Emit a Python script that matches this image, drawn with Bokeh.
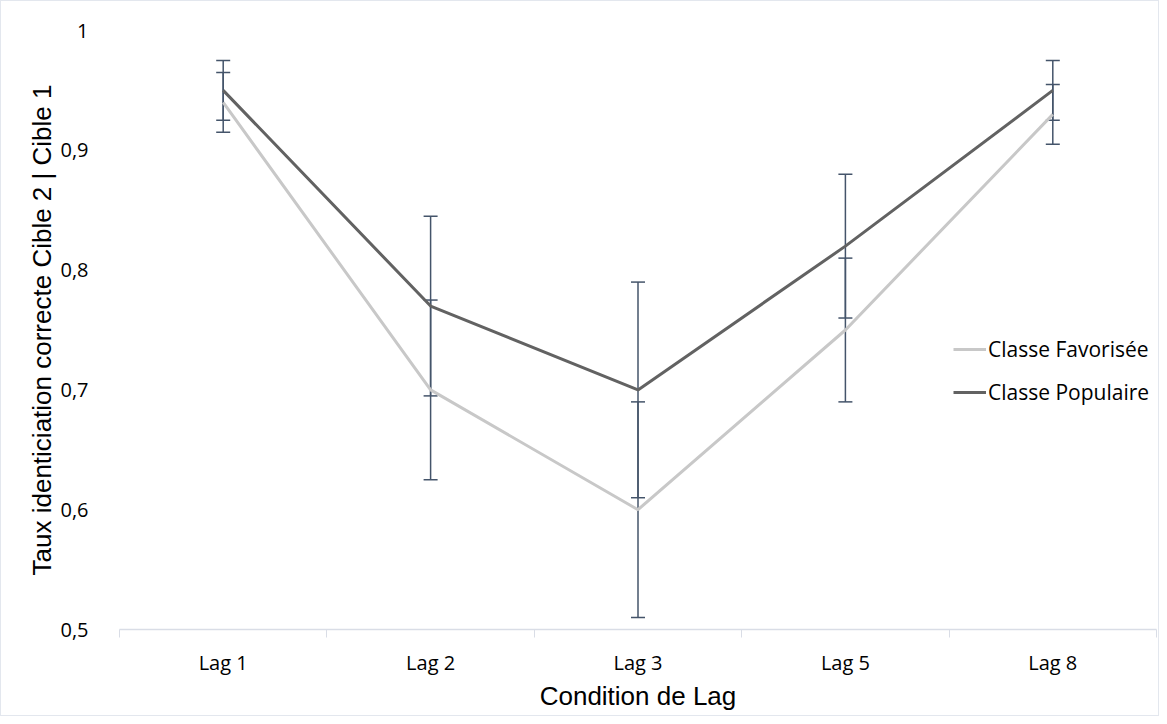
from bokeh.plotting import figure
from bokeh.models import ColumnDataSource, Whisker, TeeHead, FixedTicker, Legend, LegendItem, Range1d
from bokeh.embed import file_html
from bokeh.resources import INLINE

categories = ["Lag 1", "Lag 2", "Lag 3", "Lag 5", "Lag 8"]
favorisee = [0.94, 0.70, 0.60, 0.75, 0.93]
favorisee_err = [0.025, 0.075, 0.09, 0.06, 0.025]
populaire = [0.95, 0.77, 0.70, 0.82, 0.95]
populaire_err = [0.025, 0.075, 0.09, 0.06, 0.025]
y_ticks = [0.5, 0.6, 0.7, 0.8, 0.9, 1.0]
y_labels = ["0,5", "0,6", "0,7", "0,8", "0,9", "1"]

xpos = [i + 0.5 for i in range(len(categories))]

p = figure(width=1159, height=716, output_backend="svg", toolbar_location=None,
           x_range=Range1d(0, len(categories)), y_range=Range1d(0.5, 1.0),
           min_border_left=118, min_border_right=4, min_border_top=29, min_border_bottom=88)
p.outline_line_color = None
p.xgrid.visible = False
p.ygrid.visible = False
p.styles = {"border": "1px solid #e3e7ee"}

src_f = ColumnDataSource(dict(x=xpos, y=favorisee,
                              lo=[v - e for v, e in zip(favorisee, favorisee_err)],
                              hi=[v + e for v, e in zip(favorisee, favorisee_err)]))
src_p = ColumnDataSource(dict(x=xpos, y=populaire,
                              lo=[v - e for v, e in zip(populaire, populaire_err)],
                              hi=[v + e for v, e in zip(populaire, populaire_err)]))

rf = p.line("x", "y", source=src_f, line_color="#c8c8c8", line_width=3)
rp = p.line("x", "y", source=src_p, line_color="#626262", line_width=3)

for src in (src_f, src_p):
    w = Whisker(source=src, base="x", upper="hi", lower="lo", dimension="height",
                line_color="#44546a", line_width=1.5,
                upper_head=TeeHead(size=14, line_color="#44546a", line_width=1.5),
                lower_head=TeeHead(size=14, line_color="#44546a", line_width=1.5))
    p.add_layout(w)

# x axis
p.xaxis.ticker = FixedTicker(ticks=xpos, minor_ticks=list(range(len(categories) + 1)))
p.xaxis.major_label_overrides = {x: c for x, c in zip(xpos, categories)}
p.xaxis.major_tick_line_color = None
p.xaxis.minor_tick_line_color = "#d9dde6"
p.xaxis.minor_tick_in = 0
p.xaxis.minor_tick_out = 8
p.xaxis.axis_line_color = "#d9dde6"
p.xaxis.axis_line_width = 1.5
p.xaxis.major_label_text_font = "Open Sans"
p.xaxis.major_label_text_font_size = "20px"
p.xaxis.major_label_text_color = "#000000"
p.xaxis.major_label_standoff = 11
p.xaxis.axis_label = "Condition de Lag"
p.xaxis.axis_label_text_font = "Liberation Sans"
p.xaxis.axis_label_text_font_style = "normal"
p.xaxis.axis_label_text_font_size = "26px"
p.xaxis.axis_label_text_color = "#000000"
p.xaxis.axis_label_standoff = 2

# y axis
p.yaxis.ticker = FixedTicker(ticks=y_ticks)
p.yaxis.major_label_overrides = {t: l for t, l in zip(y_ticks, y_labels)}
p.yaxis.axis_line_color = None
p.yaxis.major_tick_line_color = None
p.yaxis.minor_tick_line_color = None
p.yaxis.major_label_text_font = "Open Sans"
p.yaxis.major_label_text_font_size = "20px"
p.yaxis.major_label_text_color = "#000000"
p.yaxis.major_label_standoff = 25
p.yaxis.axis_label = "Taux identiciation correcte Cible 2 | Cible 1"
p.yaxis.axis_label_text_font = "Liberation Sans"
p.yaxis.axis_label_text_font_style = "normal"
p.yaxis.axis_label_text_font_size = "26px"
p.yaxis.axis_label_text_color = "#000000"
p.yaxis.axis_label_standoff = 0

legend = Legend(items=[LegendItem(label="Classe Favorisée", renderers=[rf]),
                       LegendItem(label="Classe Populaire", renderers=[rp])],
                location=(834, 223), orientation="vertical")
legend.background_fill_alpha = 0
legend.border_line_color = None
legend.padding = 0
legend.margin = 0
legend.glyph_width = 33
legend.glyph_height = 24
legend.label_height = 24
legend.label_standoff = 2
legend.spacing = 15
legend.label_text_font = "Open Sans"
legend.label_text_font_size = "21px"
legend.label_text_color = "#000000"
p.add_layout(legend, "center")

open("out.html", "w").write(file_html(p, INLINE))
